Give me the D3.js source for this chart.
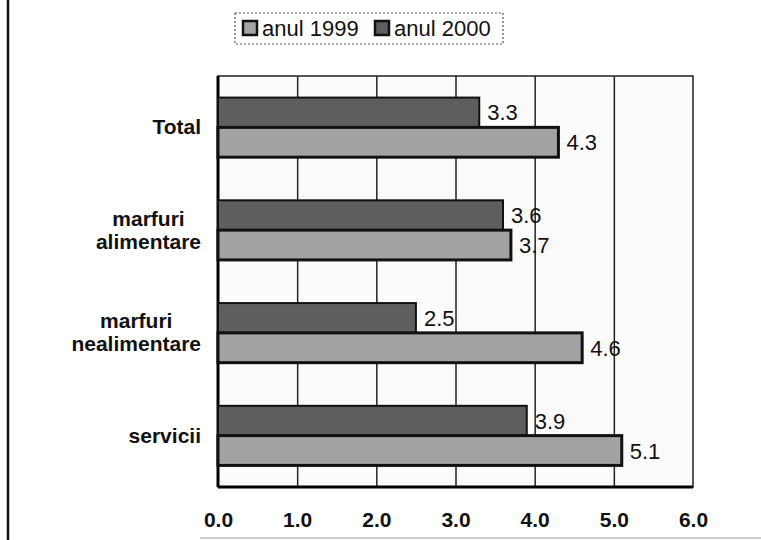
<!DOCTYPE html>
<html>
<head>
<meta charset="utf-8">
<script src="https://cdn.jsdelivr.net/npm/d3@7"></script>
<style>
  body { margin: 0; background: #fff; }
  svg { display: block; }
</style>
</head>
<body>
<div id="chart"></div>
<script>
(function () {
  var width = 761,
    height = 540;

  // data
  var categories = ["Total", "marfuri alimentare", "marfuri nealimentare", "servicii"];
  var labelLines = [["Total"], ["marfuri", "alimentare"], ["marfuri", "nealimentare"], ["servicii"]];
  var series = ["anul 2000", "anul 1999"]; // top bar, bottom bar
  var values2000 = [3.3, 3.6, 2.5, 3.9];
  var values1999 = [4.3, 3.7, 4.6, 5.1];
  var xTicks = [0, 1, 2, 3, 4, 5, 6];
  var legendItems = ["anul 1999", "anul 2000"];

  var colors = { "anul 1999": "#a3a3a3", "anul 2000": "#5e5e5e" };

  var left = 218, right = 693, top = 76, bottom = 487;

  var svg = d3.select("#chart")
    .append("svg")
    .attr("width", width)
    .attr("height", height)
    .style("font-family", "'Liberation Sans', Arial, sans-serif");

  // scan edge
  svg.append("line")
    .attr("x1", 8).attr("x2", 8).attr("y1", 0).attr("y2", height)
    .attr("stroke", "#111").attr("stroke-width", 2.5);
  svg.append("line")
    .attr("x1", 200).attr("x2", width).attr("y1", 538).attr("y2", 538)
    .attr("stroke", "#ccc").attr("stroke-width", 2);

  var x = d3.scaleLinear().domain([0, 6]).range([left, right]);

  var y = d3.scaleBand()
    .domain(categories)
    .range([top, bottom])
    .paddingInner(0.42)
    .paddingOuter(0.21);

  var ySub = d3.scaleBand().domain(series).range([0, y.bandwidth()]);

  // plot frame
  svg.append("rect")
    .attr("x", left).attr("y", top)
    .attr("width", right - left).attr("height", bottom - top)
    .attr("fill", "#fbfbfb")
    .attr("stroke", "#222").attr("stroke-width", 1.5);

  // vertical gridlines
  svg.append("g")
    .attr("transform", "translate(0," + bottom + ")")
    .call(d3.axisBottom(x).tickValues(xTicks.slice(1, -1)).tickSize(-(bottom - top)).tickFormat(""))
    .call(function (g) { g.select(".domain").remove(); })
    .selectAll("line")
    .attr("stroke", "#222")
    .attr("stroke-width", 1.5);

  // axis lines (heavier left and bottom)
  svg.append("line")
    .attr("x1", left).attr("x2", left).attr("y1", top).attr("y2", bottom)
    .attr("stroke", "#000").attr("stroke-width", 3);
  svg.append("line")
    .attr("x1", left).attr("x2", right).attr("y1", bottom).attr("y2", bottom)
    .attr("stroke", "#000").attr("stroke-width", 3);

  var rows = categories.map(function (c, i) {
    return { cat: c, "anul 2000": values2000[i], "anul 1999": values1999[i] };
  });

  var groups = svg.selectAll(".group")
    .data(rows)
    .enter().append("g")
    .attr("class", "group")
    .attr("transform", function (d) { return "translate(0," + y(d.cat) + ")"; });

  groups.selectAll("rect")
    .data(function (d) { return series.map(function (s) { return { s: s, v: d[s] }; }); })
    .enter().append("rect")
    .attr("x", x(0))
    .attr("y", function (d) { return ySub(d.s); })
    .attr("width", function (d) { return x(d.v) - x(0); })
    .attr("height", ySub.bandwidth())
    .attr("fill", function (d) { return colors[d.s]; })
    .attr("stroke", "#111")
    .attr("stroke-width", function (d) { return d.s === "anul 1999" ? 3 : 2; });

  groups.selectAll(".value")
    .data(function (d) { return series.map(function (s) { return { s: s, v: d[s] }; }); })
    .enter().append("text")
    .attr("class", "value")
    .attr("x", function (d) { return x(d.v) + 8; })
    .attr("y", function (d) { return ySub(d.s) + ySub.bandwidth() / 2 + 8; })
    .attr("font-size", "22px")
    .attr("fill", "#111")
    .text(function (d) { return d3.format(".1f")(d.v); });

  // category labels
  var labels = svg.selectAll(".cat")
    .data(categories)
    .enter().append("text")
    .attr("class", "cat")
    .attr("font-size", "21px")
    .attr("font-weight", "bold")
    .attr("fill", "#111")
    .attr("text-anchor", "middle");

  labels.each(function (c, i) {
    var t = d3.select(this);
    var lines = labelLines[i];
    var lh = 23;
    var cy = y(c) + y.bandwidth() / 2;
    var y0 = cy + 7 - (lines.length - 1) * lh / 2;
    lines.forEach(function (l, j) {
      t.append("tspan").attr("y", y0 + j * lh).text(l);
    });
    var w = 0;
    t.selectAll("tspan").each(function () { w = Math.max(w, this.getComputedTextLength()); });
    t.selectAll("tspan").attr("x", 201 - w / 2);
  });

  // x axis labels
  svg.append("g")
    .attr("transform", "translate(0," + bottom + ")")
    .call(d3.axisBottom(x).tickValues(xTicks).tickSize(0).tickPadding(25).tickFormat(d3.format(".1f")))
    .call(function (g) { g.select(".domain").remove(); })
    .selectAll("text")
    .attr("font-size", "21px")
    .attr("font-weight", "bold")
    .attr("font-family", "'Liberation Sans', Arial, sans-serif")
    .attr("fill", "#111");

  // legend
  var legend = svg.append("g");
  legend.append("rect")
    .attr("x", 235).attr("y", 13).attr("width", 268).attr("height", 31)
    .attr("fill", "none")
    .attr("stroke", "#555")
    .attr("stroke-width", 1.2)
    .attr("stroke-dasharray", "2,2");

  var lx = [243, 375];
  legendItems.forEach(function (s, i) {
    legend.append("rect")
      .attr("x", lx[i]).attr("y", 21).attr("width", 14).attr("height", 14)
      .attr("fill", colors[s])
      .attr("stroke", "#111").attr("stroke-width", 2.5);
    legend.append("text")
      .attr("x", lx[i] + 19).attr("y", 36)
      .attr("font-size", "22px")
      .attr("fill", "#111")
      .text(s);
  });
})();
</script>
</body>
</html>
